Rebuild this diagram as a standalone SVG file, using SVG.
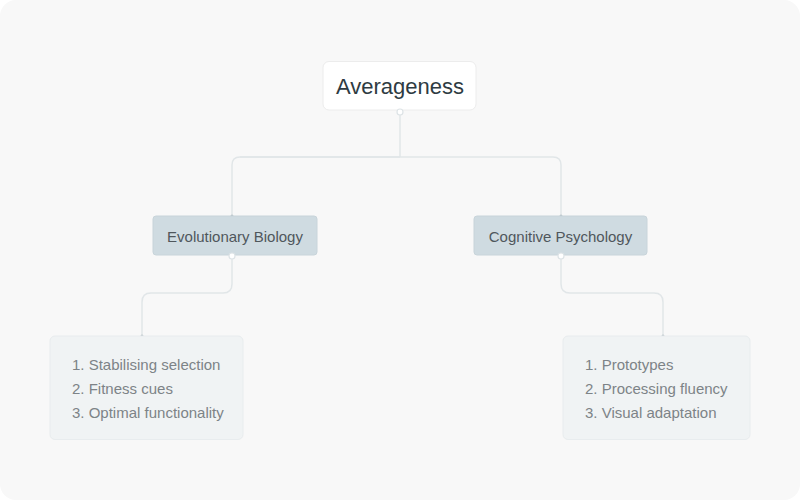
<svg xmlns="http://www.w3.org/2000/svg" width="800" height="500" viewBox="0 0 800 500">
<defs>
<style>
.conn{fill:none;stroke:#e1e6e8;stroke-width:1.5}
.t{font-family:"Liberation Sans",Arial,sans-serif}
.sub{fill:#cfdbe1;stroke:#c8d4da;stroke-width:1}
.leaf{fill:#f0f3f4;stroke:#e8ecee;stroke-width:1}
.lt{font-size:15px;fill:#7d8387}
.port{fill:#ffffff;stroke:#dde3e6;stroke-width:1.2}
</style>
<marker id="dot" viewBox="0 0 4 4" refX="2" refY="2" markerWidth="4" markerHeight="4" markerUnits="userSpaceOnUse">
<circle cx="2" cy="2" r="1.5" fill="#b8c2c7"/>
</marker>
</defs>
<rect x="0" y="0" width="800" height="500" fill="#ffffff"/>
<rect x="0" y="0" width="800" height="500" rx="16" fill="#f8f8f8"/>
<g id="connectors">
<path class="conn" d="M400 115 V157 M240 157 H553 Q561 157 561 165 V216" marker-end="url(#dot)"/>
<path class="conn" d="M400 157 H240 Q232 157 232 165 V216" marker-end="url(#dot)"/>
<path class="conn" d="M232 259 V284 Q232 293 223 293 H151 Q142 293 142 302 V336" marker-end="url(#dot)"/>
<path class="conn" d="M561 259 V284 Q561 293 570 293 H654 Q663 293 663 302 V336" marker-end="url(#dot)"/>
</g>
<g id="root">
<rect x="323" y="61.5" width="153" height="48.5" rx="6" fill="#ffffff" stroke="#ececec" stroke-width="1"/>
<text class="t" x="400" y="94" text-anchor="middle" font-size="22" fill="#2e3b42">Averageness</text>
<circle class="port" cx="400" cy="112" r="3"/>
</g>
<g id="evolutionary-biology">
<rect class="sub" x="153" y="216" width="164" height="39" rx="3"/>
<text class="t" x="235" y="242" text-anchor="middle" font-size="15" fill="#4f575c">Evolutionary Biology</text>
<circle class="port" cx="232" cy="256" r="3"/>
</g>
<g id="cognitive-psychology">
<rect class="sub" x="474" y="216" width="173" height="39" rx="3"/>
<text class="t" x="560.5" y="242" text-anchor="middle" font-size="15" fill="#4f575c">Cognitive Psychology</text>
<circle class="port" cx="561" cy="256" r="3"/>
</g>
<g id="evolutionary-biology-list">
<rect class="leaf" x="50" y="336" width="193" height="103.5" rx="5"/>
<text class="t lt" x="72" y="370">1. Stabilising selection</text>
<text class="t lt" x="72" y="394">2. Fitness cues</text>
<text class="t lt" x="72" y="418">3. Optimal functionality</text>
</g>
<g id="cognitive-psychology-list">
<rect class="leaf" x="563" y="336" width="187" height="103.5" rx="5"/>
<text class="t lt" x="585" y="370">1. Prototypes</text>
<text class="t lt" x="585" y="394">2. Processing fluency</text>
<text class="t lt" x="585" y="418">3. Visual adaptation</text>
</g>
</svg>
